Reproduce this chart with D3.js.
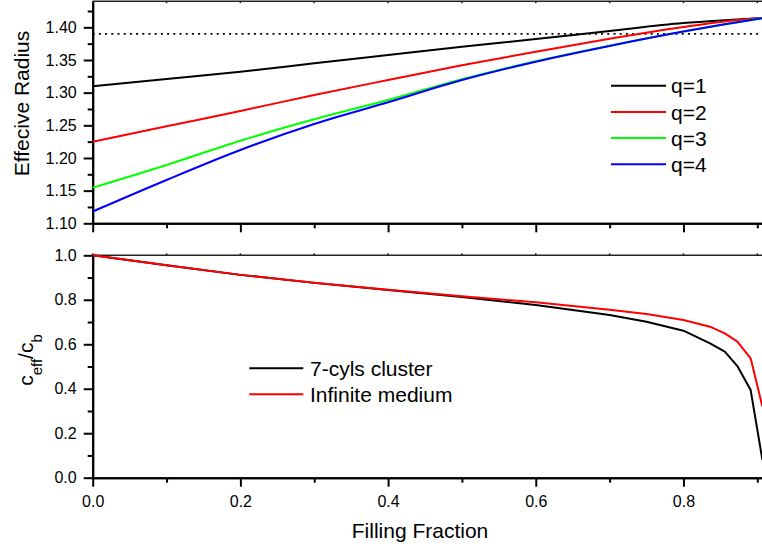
<!DOCTYPE html>
<html>
<head>
<meta charset="utf-8">
<script src="https://cdn.jsdelivr.net/npm/d3@7"></script>
<style>
  html, body { margin: 0; padding: 0; background: #fff; }
  svg { display: block; font-family: "Liberation Sans", Arial, sans-serif; }
</style>
</head>
<body>
<svg id="chart" width="762" height="548"></svg>
<script>
// Upper panel: effective radius vs filling fraction for q = 1..4
const fracTop = [0, 0.1, 0.2, 0.3, 0.4, 0.5, 0.6, 0.7, 0.8, 0.85, 0.9069];
const radiusQ1 = [1.3097, 1.3209, 1.3320, 1.3449, 1.3576, 1.3703, 1.3820, 1.3945, 1.4065, 1.4105, 1.4142];
const radiusQ2 = [1.2247, 1.2485, 1.2720, 1.2964, 1.3193, 1.3418, 1.3627, 1.3825, 1.4005, 1.4082, 1.4142];
const radiusQ3 = [1.1545, 1.1893, 1.2264, 1.2592, 1.2887, 1.3205, 1.3482, 1.3720, 1.3938, 1.4037, 1.4142];
const radiusQ4 = [1.1180, 1.1663, 1.2122, 1.2520, 1.2852, 1.3193, 1.3474, 1.3715, 1.3935, 1.4035, 1.4142];
const radiusRef = 1.39;
const seriesTop = ["q=1", "q=2", "q=3", "q=4"];

// Lower panel: concentration ratio c_eff / c_b
const fracBot = [0, 0.1, 0.2, 0.3, 0.4, 0.5, 0.6, 0.7, 0.75, 0.8, 0.836, 0.856, 0.873, 0.891, 0.9069];
const ratioCluster = [1.0, 0.955, 0.912, 0.876, 0.844, 0.812, 0.777, 0.732, 0.701, 0.661, 0.604, 0.567, 0.502, 0.394, 0.08];
const ratioInfinite = [1.0, 0.955, 0.912, 0.877, 0.845, 0.816, 0.789, 0.755, 0.736, 0.709, 0.679, 0.649, 0.612, 0.537, 0.32];
const seriesBot = ["7-cyls cluster", "Infinite medium"];

// Tick labels
const xMajor = [0, 0.2, 0.4, 0.6, 0.8];
const xMinor = [0.1, 0.3, 0.5, 0.7, 0.9];
const yTopMajor = [1.10, 1.15, 1.20, 1.25, 1.30, 1.35, 1.40];
const yTopMinor = [1.125, 1.175, 1.225, 1.275, 1.325, 1.375, 1.425];
const yBotMajor = [0, 0.2, 0.4, 0.6, 0.8, 1.0];
const yBotMinor = [0.1, 0.3, 0.5, 0.7, 0.9];

const svg = d3.select("#chart");

const x = d3.scaleLinear().domain([0, 0.9069]).range([92.7, 762.4]);
const yTop = d3.scaleLinear().domain([1.10, 1.44]).range([223.3, 1.2]);
const yBot = d3.scaleLinear().domain([0, 1.0]).range([477.7, 255.3]);

const colTop = ["#000000", "#ff0000", "#00ff00", "#0000ff"];
const colBot = ["#000000", "#ff0000"];

function styleAxis(g) {
  g.selectAll("path.domain").attr("stroke", "#000").attr("stroke-width", 2);
  g.selectAll(".tick line").attr("stroke", "#000").attr("stroke-width", 2);
  g.selectAll(".tick text").attr("fill", "#000").style("font-size", "16px")
    .style("font-family", "'Liberation Sans', Arial, sans-serif");
}

// ---- upper panel axes ----
const gTopL = svg.append("g").attr("transform", `translate(${x(0)},0)`)
  .call(d3.axisLeft(yTop).tickValues(yTopMajor).tickFormat(d3.format(".2f"))
    .tickSize(9).tickSizeOuter(0).tickPadding(7));
styleAxis(gTopL);
const gTopLm = svg.append("g").attr("transform", `translate(${x(0)},0)`)
  .call(d3.axisLeft(yTop).tickValues(yTopMinor).tickFormat("").tickSize(5).tickSizeOuter(0));
styleAxis(gTopLm);

const gTopB = svg.append("g").attr("transform", `translate(0,${yTop(1.10)})`)
  .call(d3.axisBottom(x).tickValues(xMajor).tickFormat("").tickSize(9).tickSizeOuter(0));
styleAxis(gTopB);
const gTopBm = svg.append("g").attr("transform", `translate(0,${yTop(1.10)})`)
  .call(d3.axisBottom(x).tickValues(xMinor).tickFormat("").tickSize(5).tickSizeOuter(0));
styleAxis(gTopBm);

// frame line along the top with small ticks
svg.append("line").attr("x1", x(0)).attr("x2", x.range()[1])
  .attr("y1", yTop(1.44)).attr("y2", yTop(1.44))
  .attr("stroke", "#222").attr("stroke-width", 1.5);
svg.append("g").selectAll("line").data(xMajor.concat(xMinor)).join("line")
  .attr("x1", d => x(d)).attr("x2", d => x(d))
  .attr("y1", yTop(1.44)).attr("y2", yTop(1.44) + 2)
  .attr("stroke", "#222").attr("stroke-width", 1.5);

// reference level (dotted)
svg.append("line").attr("x1", x(0)).attr("x2", x.range()[1])
  .attr("y1", yTop(radiusRef)).attr("y2", yTop(radiusRef))
  .attr("stroke", "#000").attr("stroke-width", 1.6).attr("stroke-dasharray", "2,4.2");

const lineTop = d3.line().x(d => x(d[0])).y(d => yTop(d[1])).curve(d3.curveMonotoneX);
const topData = [radiusQ1, radiusQ2, radiusQ3, radiusQ4];
// q=3 is drawn before q=4 so blue overlays green where they coincide
topData.forEach((vals, i) => {
  svg.append("path")
    .datum(fracTop.map((f, k) => [f, vals[k]]))
    .attr("d", lineTop).attr("fill", "none")
    .attr("stroke", colTop[i]).attr("stroke-width", 2);
});

// upper legend
const legTop = svg.append("g");
seriesTop.forEach((name, i) => {
  const ly = 85.7 + i * 26.2;
  legTop.append("line").attr("x1", 611).attr("x2", 666).attr("y1", ly).attr("y2", ly)
    .attr("stroke", colTop[i]).attr("stroke-width", 2);
  legTop.append("text").attr("x", 671).attr("y", ly + 7.6)
    .style("font-size", "21px").attr("fill", "#000").text(name);
});

// upper y title
svg.append("text")
  .attr("transform", "translate(28.5,103.5) rotate(-90)")
  .attr("text-anchor", "middle").style("font-size", "21px").attr("fill", "#000")
  .text("Effecive Radius");

// ---- lower panel axes ----
const gBotL = svg.append("g").attr("transform", `translate(${x(0)},0)`)
  .call(d3.axisLeft(yBot).tickValues(yBotMajor).tickFormat(d3.format(".1f"))
    .tickSize(9).tickSizeOuter(0).tickPadding(7));
styleAxis(gBotL);
const gBotLm = svg.append("g").attr("transform", `translate(${x(0)},0)`)
  .call(d3.axisLeft(yBot).tickValues(yBotMinor).tickFormat("").tickSize(5).tickSizeOuter(0));
styleAxis(gBotLm);

const gBotB = svg.append("g").attr("transform", `translate(0,${yBot(0)})`)
  .call(d3.axisBottom(x).tickValues(xMajor).tickFormat(d3.format(".1f"))
    .tickSize(9).tickSizeOuter(0).tickPadding(9));
styleAxis(gBotB);
const gBotBm = svg.append("g").attr("transform", `translate(0,${yBot(0)})`)
  .call(d3.axisBottom(x).tickValues(xMinor).tickFormat("").tickSize(5).tickSizeOuter(0));
styleAxis(gBotBm);

svg.append("line").attr("x1", x(0)).attr("x2", x.range()[1])
  .attr("y1", yBot(1.0)).attr("y2", yBot(1.0))
  .attr("stroke", "#222").attr("stroke-width", 1.5);
svg.append("g").selectAll("line").data(xMajor.concat(xMinor)).join("line")
  .attr("x1", d => x(d)).attr("x2", d => x(d))
  .attr("y1", yBot(1.0) - 2).attr("y2", yBot(1.0))
  .attr("stroke", "#222").attr("stroke-width", 1.5);

const lineBot = d3.line().x(d => x(d[0])).y(d => yBot(d[1]));
[ratioCluster, ratioInfinite].forEach((vals, i) => {
  svg.append("path")
    .datum(fracBot.map((f, k) => [f, vals[k]]))
    .attr("d", lineBot).attr("fill", "none")
    .attr("stroke", colBot[i]).attr("stroke-width", 2).attr("stroke-linejoin", "round");
});

// lower legend
const legBot = svg.append("g");
seriesBot.forEach((name, i) => {
  const ly = 368.3 + i * 26;
  legBot.append("line").attr("x1", 249.3).attr("x2", 303.3).attr("y1", ly).attr("y2", ly)
    .attr("stroke", colBot[i]).attr("stroke-width", 2);
  legBot.append("text").attr("x", 310).attr("y", ly + 7.8)
    .style("font-size", "21px").attr("fill", "#000").text(name);
});

// lower y title: c_eff / c_b
const yt = svg.append("text")
  .attr("transform", "translate(33.3,360) rotate(-90)")
  .attr("text-anchor", "middle").style("font-size", "21px").attr("fill", "#000");
yt.append("tspan").text("c");
yt.append("tspan").attr("dy", 9).style("font-size", "15px").text("eff");
yt.append("tspan").attr("dy", -9).text("/c");
yt.append("tspan").attr("dy", 9).style("font-size", "15px").text("b");

// x title
svg.append("text").attr("x", 420).attr("y", 538.3)
  .attr("text-anchor", "middle").style("font-size", "21px").attr("fill", "#000")
  .text("Filling Fraction");
</script>
</body>
</html>
